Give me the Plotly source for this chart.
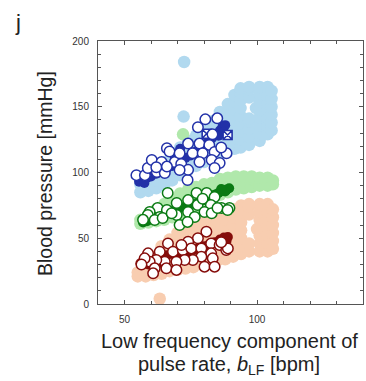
import plotly.graph_objects as go

# ---------------------------------------------------------------
# Population clouds (light colours): columns of (b_LF, [BP values])
# ---------------------------------------------------------------
sbp_cloud_cols = [
    (56, [85, 91, 96]),
    (59, [86, 92, 98, 100]),
    (62, [88, 94, 100, 104]),
    (65, [90, 96, 102, 108]),
    (68, [94, 100, 106, 112, 114]),
    (71, [98, 104, 110, 116, 119]),
    (74, [102, 108, 114, 120, 124]),
    (77, [105, 111, 117, 123, 128]),
    (80, [108, 114, 120, 126, 132]),
    (83, [111, 117, 123, 129, 135, 139]),
    (86, [114, 120, 126, 132, 138, 144, 146]),
    (89, [116, 122, 128, 134, 140, 146, 152]),
    (91.5, [118, 124, 130, 136, 142, 148, 154, 159]),
    (93.8, [119, 125, 131, 137, 143, 149, 155, 161, 164]),
    (97, [121, 127, 133, 139, 141, 157, 163, 165]),
    (99.6, [149]),
    (101, [124, 130, 136, 142, 148, 154, 160, 165]),
    (104, [129, 135, 141, 147, 153, 159, 165]),
    (105.5, [132, 138, 144, 150, 156, 162]),
]
sbp_outlier_x = [72.5, 72.3]
sbp_outlier_y = [184, 142.5]

mbp_cloud_cols = [
    (56, [61, 64]),
    (59, [62, 68]),
    (62, [63, 69, 72]),
    (65, [64, 70, 76]),
    (68, [66, 72, 79]),
    (71, [68, 74, 80, 84]),
    (74, [71, 77, 83, 87]),
    (77, [73, 79, 85, 89]),
    (80, [76, 82, 88, 91]),
    (83, [80, 86, 92]),
    (86, [83, 89, 95]),
    (89, [85, 91, 96]),
    (92, [87, 93, 97]),
    (95, [88, 94, 97]),
    (98, [89, 95, 97]),
    (101, [90, 96]),
    (104, [90, 96]),
    (106, [91, 94]),
]
mbp_outlier_x = [72.1]
mbp_outlier_y = [129]

dbp_cloud_cols = [
    (55, [21, 24]),
    (58, [21, 27, 32]),
    (61, [22, 28, 34, 36]),
    (64, [23, 29, 35, 41, 44]),
    (67, [25, 31, 37, 43, 49]),
    (70, [26, 32, 38, 44, 50, 54]),
    (73, [27, 33, 39, 45, 51, 57]),
    (76, [28, 34, 40, 46, 52, 58, 62]),
    (79, [30, 36, 42, 48, 54, 60, 65]),
    (82, [31, 37, 43, 49, 55, 61, 66]),
    (85, [33, 39, 45, 51, 57, 63, 68]),
    (88, [34, 40, 46, 52, 58, 64, 70]),
    (91, [36, 42, 48, 54, 60, 66, 72]),
    (94, [38, 44, 50, 56, 62, 70, 75]),
    (97, [40, 46, 68, 74, 76]),
    (100, [57]),
    (101, [40, 46, 52, 58, 64, 70, 76]),
    (104, [40, 46, 52, 58, 64, 70, 76]),
    (106, [42, 48, 54, 60, 66, 72]),
]
dbp_outlier_x = [63.3]
dbp_outlier_y = [4]

# ---------------------------------------------------------------
# Subject data (filled dark markers)
# ---------------------------------------------------------------
sbp_subj_x = [55.5, 57, 58.5, 60, 62, 64, 66, 68, 70, 71.5, 73, 75, 77, 79, 81,
              83, 84.5, 86, 87, 88, 71, 69, 57.5, 85.5, 87.5]
sbp_subj_y = [93, 95, 96, 97, 99, 101, 103, 105, 107, 109, 111, 113, 116, 119, 122,
              126, 129, 132, 135, 136, 118, 111, 92, 128, 131]

mbp_subj_x = [57, 58.5, 60, 62, 64, 66, 68, 70, 72, 74, 76, 78, 80, 82, 84,
              85.5, 87, 88.5, 89.5, 88, 86.5]
mbp_subj_y = [62, 63, 64.5, 66, 67.5, 69, 70.5, 72, 73.5, 75, 76, 77.5, 79, 81, 83,
              84.5, 86, 87, 88, 85.5, 87.5]

dbp_subj_x = [56, 57.5, 59, 60.5, 62, 64, 66, 68, 70, 72, 74, 76, 78, 80, 82,
              84, 86, 87.5, 89, 88.5, 65, 58]
dbp_subj_y = [31, 33, 30, 33, 34, 36, 37, 38, 38.5, 39, 40, 41, 42.5, 44, 45.5,
              47, 49, 50.5, 51, 48, 30, 36]

# Cuff-referenced points (white markers with coloured rim)
sbp_ref_x = [54.5, 57.7, 58.8, 62.2, 65.2, 60.3, 64, 66, 67, 69, 70.8, 71.4, 73.8,
             75.7, 74, 78.3, 82, 79.5, 84, 88.5, 78.3, 82.9, 85.9, 84, 77.7, 80.5,
             85, 74, 70.8, 62, 66, 83.2, 86.5]
sbp_ref_y = [98, 98, 103.4, 100.4, 99.6, 109.5, 108, 118.4, 116, 108, 114.6, 106.5, 94.3,
             114.6, 122, 122, 121, 114.6, 115.6, 114.6, 108, 109.5, 107.2, 103.4, 134.4, 140.4,
             141.2, 102, 101.9, 104, 104.5, 129, 119]
sbp_chk_x = [81, 88.9]
sbp_chk_y = [129.5, 128.5]

mbp_ref_x = [66.3, 77.2, 81, 84, 74, 69.7, 77.6, 82.6, 86.6, 89.6, 62.5, 66, 59.5,
             74, 80.2, 63.3, 69.7, 76.5, 58.8, 61.4, 64.4, 70.8, 73.8, 67.8, 82.9,
             85.1, 88.9, 57, 79.5]
mbp_ref_y = [84.4, 84.4, 84.4, 81.4, 79, 76.8, 75.3, 75.3, 73, 73, 73, 71.5, 70,
             70, 70, 66.2, 67.7, 66.2, 67.7, 63.9, 65.4, 60, 62.4, 69, 69,
             73, 71.5, 64, 80]

dbp_ref_x = [80.9, 77.7, 74, 66.4, 82.7, 85.9, 88.4, 58.9, 63.3, 68.3, 72, 75.2,
             79, 82.7, 79, 75.8, 72.7, 69.6, 65.2, 62, 59.5, 57.6, 65.8, 61.4,
             60.8, 69.6, 80.2, 83.3, 71.5, 89, 84, 86.5, 56.4]
dbp_ref_y = [55, 50, 47.4, 46.1, 46.1, 44.9, 41, 38.5, 39.8, 39.8, 41, 42.3,
             42.3, 38.5, 36, 33.5, 33.5, 32.2, 32.2, 33.5, 32.2, 34.7, 27.1, 27.1,
             23.3, 25.9, 28.4, 34.7, 44.9, 42.3, 28.4, 47, 30]

# Axis ticks
x_range = [40, 140]
y_range = [0, 200]
x_ticks = [50, 100]
y_ticks = [0, 50, 100, 150, 200]

# Colours
c_sbp_light, c_mbp_light, c_dbp_light = "#b1d9ef", "#b0e8ab", "#f8cdb0"
c_sbp, c_mbp, c_dbp = "#2231a8", "#0b7a14", "#850d0b"


def expand(cols):
    xs, ys = [], []
    for x, yl in cols:
        for y in yl:
            xs.append(x)
            ys.append(y)
    return xs, ys


fig = go.Figure()

for cols, ox, oy, col in [
    (sbp_cloud_cols, sbp_outlier_x, sbp_outlier_y, c_sbp_light),
    (mbp_cloud_cols, mbp_outlier_x, mbp_outlier_y, c_mbp_light),
    (dbp_cloud_cols, dbp_outlier_x, dbp_outlier_y, c_dbp_light),
]:
    xs, ys = expand(cols)
    fig.add_trace(go.Scatter(x=xs + ox, y=ys + oy, mode="markers",
                             marker=dict(size=12.5, color=col, line=dict(width=0)),
                             hoverinfo="skip"))

for xs, ys, col in [(sbp_subj_x, sbp_subj_y, c_sbp),
                    (mbp_subj_x, mbp_subj_y, c_mbp),
                    (dbp_subj_x, dbp_subj_y, c_dbp)]:
    fig.add_trace(go.Scatter(x=xs, y=ys, mode="markers",
                             marker=dict(size=10, color=col, line=dict(width=0))))

fig.add_trace(go.Scatter(x=sbp_chk_x, y=sbp_chk_y, mode="markers",
                         marker=dict(size=9, symbol="square-x", color="white",
                                     line=dict(width=1.6, color=c_sbp))))

for xs, ys, col in [(sbp_ref_x, sbp_ref_y, c_sbp),
                    (mbp_ref_x, mbp_ref_y, c_mbp),
                    (dbp_ref_x, dbp_ref_y, c_dbp)]:
    fig.add_trace(go.Scatter(x=xs, y=ys, mode="markers",
                             marker=dict(size=10.5, color="white",
                                         line=dict(width=1.5, color=col))))

axis_common = dict(
    showline=True, linecolor="#555", linewidth=1, mirror="allticks",
    ticks="inside", ticklen=4, tickcolor="#555", tickwidth=1,
    showgrid=False, zeroline=False,
    tickfont=dict(family="Liberation Sans, Arial", size=10, color="#333"),
    ticklabelstandoff=6,
    minor=dict(ticks="inside", ticklen=3, tickcolor="#555", dtick=10, showgrid=False),
)
fig.update_xaxes(range=x_range, tickvals=x_ticks, **axis_common)
fig.update_yaxes(range=y_range, tickvals=y_ticks, **axis_common)

title_font = dict(family="Liberation Sans, Arial", size=20, color="#222")
L, T, W, H = 98, 41, 265, 263


def px_x(p):
    return (p - L) / W


def px_y(p):
    return (T + H - p) / H


fig.update_layout(
    width=366, height=381,
    margin=dict(l=L, r=366 - L - W, t=T, b=381 - T - H),
    paper_bgcolor="white", plot_bgcolor="white", showlegend=False,
    annotations=[
        dict(text="j", x=px_x(13), y=px_y(8), xref="paper", yref="paper",
             xanchor="left", yanchor="top", showarrow=False,
             font=dict(family="Liberation Sans, Arial", size=22, color="#222")),
        dict(text="Blood pressure [mmHg]", x=px_x(45), y=px_y(174),
             xref="paper", yref="paper", textangle=-90, showarrow=False,
             xanchor="center", yanchor="middle",
             font=dict(family="Liberation Sans, Arial", size=19.5, color="#222")),
        dict(text="Low frequency component of", x=px_x(229), y=px_y(341),
             xref="paper", yref="paper", showarrow=False,
             xanchor="center", yanchor="middle", font=title_font),
        dict(text="pulse rate, <i>b</i><sub>LF</sub> [bpm]", x=px_x(229), y=px_y(365),
             xref="paper", yref="paper", showarrow=False,
             xanchor="center", yanchor="middle", font=title_font),
    ],
)

fig.write_html("out.html")
